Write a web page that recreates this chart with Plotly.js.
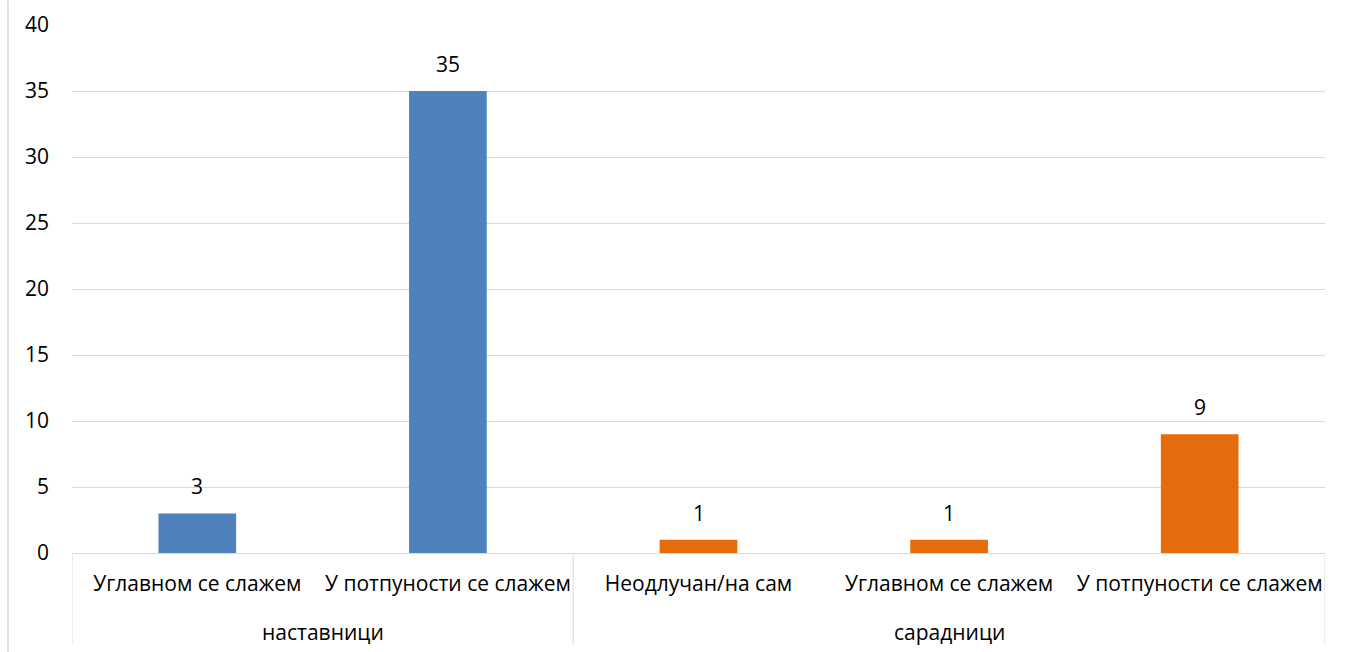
<!DOCTYPE html>
<html>
<head>
<meta charset="utf-8">
<script src="https://cdn.plot.ly/plotly-3.0.1.min.js"></script>
<style>html,body{margin:0;padding:0;background:#fff;}#chart{width:1346px;height:652px;}</style>
</head>
<body>
<div id="chart"></div>
<script>
var groups = ["наставници", "наставници", "сарадници", "сарадници", "сарадници"];
var categories = ["Углавном се слажем", "У потпуности се слажем", "Неодлучан/на сам", "Углавном се слажем", "У потпуности се слажем"];
var values = [3, 35, 1, 1, 9];
var barColors = ["#4F81BD", "#4F81BD", "#E46C0A", "#E46C0A", "#E46C0A"];
var yTicks = [0, 5, 10, 15, 20, 25, 30, 35, 40];

var fontFamily = "Open Sans, Noto Sans, sans-serif";
var fontSize = 21;
var idx = categories.map(function (c, i) { return i; });

var trace = {
  type: "bar",
  x: idx,
  y: values,
  marker: {color: barColors},
  width: 0.31,
  hoverinfo: "none"
};

var annotations = values.map(function (v, i) {
  return {
    x: i, y: v, xref: "x", yref: "y",
    text: String(v), showarrow: false,
    yanchor: "bottom", yshift: 11,
    font: {family: fontFamily, size: fontSize, color: "#000"}
  };
});

// group spans
var spans = [];
groups.forEach(function (g, i) {
  if (!spans.length || spans[spans.length - 1].name !== g) spans.push({name: g, start: i, end: i});
  else spans[spans.length - 1].end = i;
});

var shapes = [{
  type: "line", xref: "paper", yref: "paper",
  x0: -0.0511, x1: -0.0511, y0: -0.1875, y1: 1.047,
  line: {color: "#d9d9d9", width: 1.5}
}];

var divX = [spans[0].start - 0.5];
spans.forEach(function (s) {
  divX.push(s.end + 0.5);
  annotations.push({
    x: (s.start + s.end) / 2, xref: "x",
    y: -0.1496, yref: "paper", yanchor: "middle",
    text: s.name, showarrow: false,
    font: {family: fontFamily, size: fontSize, color: "#000"}
  });
});
divX.forEach(function (x) {
  shapes.push({
    type: "line", xref: "x", yref: "paper",
    x0: x, x1: x, y0: 0, y1: -0.174,
    line: {color: "#d9d9d9", width: 1}
  });
});

var layout = {
  width: 1346, height: 652,
  margin: {l: 72, r: 21, t: 25, b: 99},
  paper_bgcolor: "#fff", plot_bgcolor: "#fff",
  showlegend: false,
  font: {family: fontFamily, size: fontSize, color: "#000"},
  xaxis: {
    range: [-0.5, categories.length - 0.5],
    tickvals: idx, ticktext: categories,
    showline: true, linecolor: "#d9d9d9", linewidth: 1,
    tickfont: {family: fontFamily, size: fontSize, color: "#000"},
    ticklabelstandoff: 12,
    showgrid: false, zeroline: false, ticks: "", tickangle: 0
  },
  yaxis: {
    range: [0, 40], tickvals: yTicks, ticktext: yTicks.map(String),
    showgrid: true, gridcolor: "#d9d9d9", gridwidth: 1,
    zeroline: false, showline: false, ticks: "",
    ticklabelstandoff: 22,
    tickfont: {family: fontFamily, size: fontSize, color: "#000"}
  },
  annotations: annotations,
  shapes: shapes
};

Plotly.newPlot("chart", [trace], layout, {displayModeBar: false, staticPlot: true});
</script>
</body>
</html>
